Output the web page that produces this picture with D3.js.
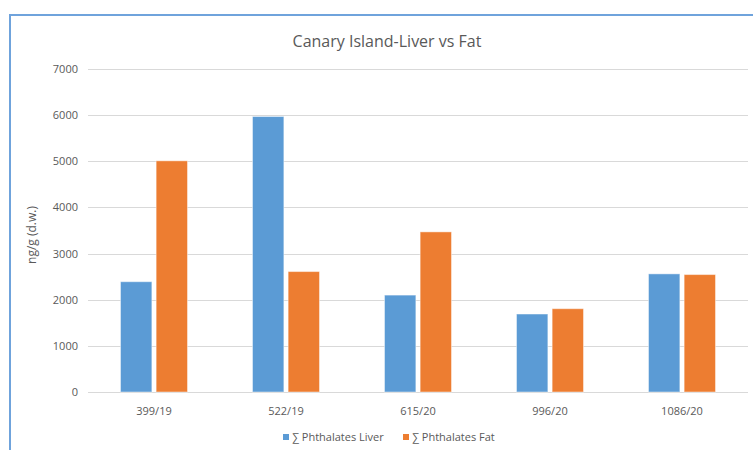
<!DOCTYPE html>
<html lang="en">
<head>
    <meta charset="utf-8">
    <title>Canary Island-Liver vs Fat</title>
    <script src="https://d3js.org/d3.v7.min.js"></script>
    <style>
        body { margin: 0; background: #fff; }
        text { font-family: "Open Sans", "Liberation Sans", sans-serif; fill: #595959; }
    </style>
</head>
<body>
<svg id="chart"></svg>
<script>

    // data
    const samples = ["399/19", "522/19", "615/20", "996/20", "1086/20"];
    const liver = [2390, 5970, 2100, 1690, 2560];
    const fat = [5010, 2610, 3470, 1805, 2545];
    const seriesNames = ["\u2211 Phthalates Liver", "\u2211 Phthalates Fat"];
    const yTicks = [0, 1000, 2000, 3000, 4000, 5000, 6000, 7000];

    let width = 753,
        height = 450,
        margin = {top: 69, right: 5, bottom: 58, left: 88},
        colors = ["#5B9BD5", "#ED7D31"];

    let svg = d3.select("#chart")
        .attr("width", width)
        .attr("height", height);

    // chart frame (runs past the right and bottom edges)
    svg.append("rect")
        .attr("x", 10).attr("y", 15)
        .attr("width", 800).attr("height", 500)
        .attr("fill", "none")
        .attr("stroke", "#6FA3DC")
        .attr("stroke-width", 2);

    svg.append("text")
        .attr("x", 387).attr("y", 47)
        .attr("text-anchor", "middle")
        .style("font-size", "16px")
        .text("Canary Island-Liver vs Fat");

    let x = d3.scaleBand()
        .domain(samples)
        .range([88, 748]);

    let x1 = d3.scaleBand()
        .domain([0, 1])
        .range([32.5, 99.5])
        .paddingInner(0.12);

    let y = d3.scaleLinear()
        .domain([0, 7000])
        .range([392, 69]);

    // gridlines
    svg.append("g")
        .selectAll("line")
        .data(yTicks)
        .join("line")
        .attr("x1", 88).attr("x2", 748)
        .attr("y1", d => Math.round(y(d)) + 0.5)
        .attr("y2", d => Math.round(y(d)) + 0.5)
        .attr("stroke", "#D9D9D9")
        .attr("stroke-width", 1.2);

    svg.append("g")
        .selectAll("text")
        .data(yTicks)
        .join("text")
        .attr("x", 78)
        .attr("y", d => y(d) + 4)
        .attr("text-anchor", "end")
        .style("font-size", "11px")
        .text(d => d);

    svg.append("text")
        .attr("transform", "translate(36,235) rotate(-90)")
        .attr("text-anchor", "middle")
        .style("font-size", "12px")
        .text("ng/g (d.w.)");

    let rows = samples.map((s, i) => ({sample: s, values: [liver[i], fat[i]]}));

    svg.append("g")
        .selectAll("g")
        .data(rows)
        .join("g")
        .attr("transform", d => `translate(${x(d.sample)},0)`)
        .selectAll("rect")
        .data(d => d.values)
        .join("rect")
        .attr("x", (d, i) => x1(i))
        .attr("width", x1.bandwidth())
        .attr("y", d => y(d))
        .attr("height", d => y(0) - y(d))
        .attr("fill", (d, i) => colors[i])
        .attr("stroke", "rgba(255,255,255,0.45)")
        .attr("stroke-width", 1);

    svg.append("g")
        .selectAll("text")
        .data(samples)
        .join("text")
        .attr("x", d => x(d) + x.bandwidth() / 2)
        .attr("y", 415)
        .attr("text-anchor", "middle")
        .style("font-size", "11px")
        .text(d => d);

    // legend
    let legendX = [283, 403];
    let legend = svg.append("g")
        .selectAll("g")
        .data(seriesNames)
        .join("g")
        .attr("transform", (d, i) => `translate(${legendX[i]},437)`);

    legend.append("rect")
        .attr("x", 0).attr("y", -3)
        .attr("width", 6).attr("height", 6)
        .attr("fill", (d, i) => colors[i]);

    legend.append("text")
        .attr("x", 9).attr("y", 4)
        .style("font-size", "11px")
        .text(d => d);

</script>
</body>
</html>
